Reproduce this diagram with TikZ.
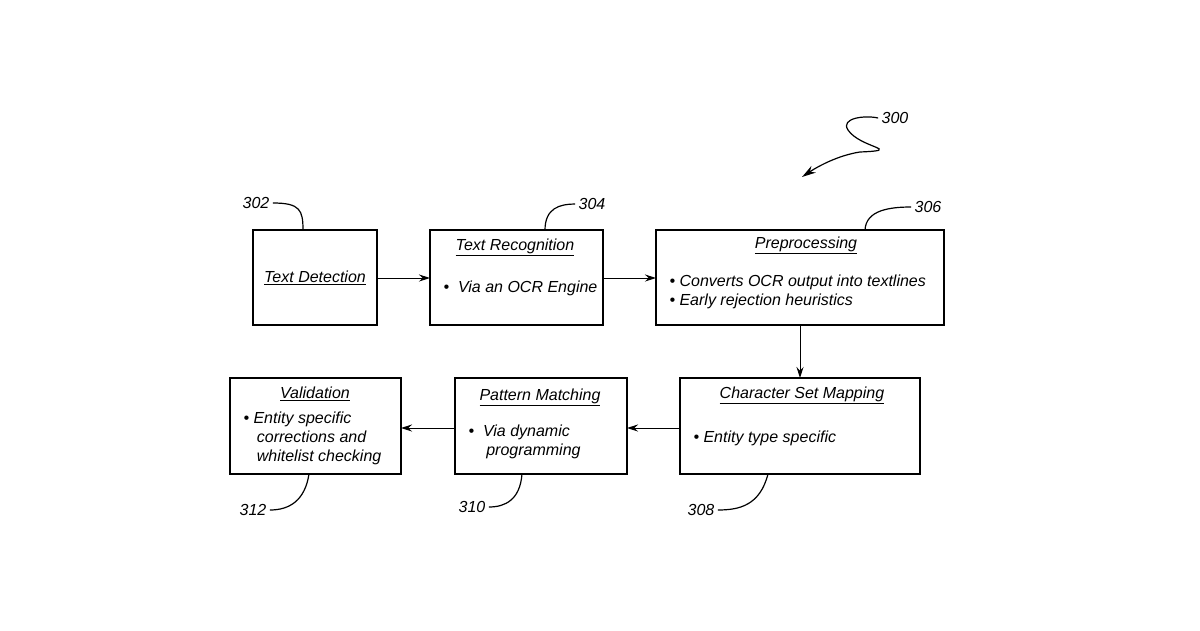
\documentclass[tikz,border=0pt]{standalone}
\usepackage{fontspec}
\setmainfont{Liberation Sans}
\usetikzlibrary{arrows.meta}
\begin{document}
\begin{tikzpicture}[x=1pt,y=-1pt,
  box/.style={draw,line width=1.6pt,inner sep=0pt},
  txt/.style={font=\itshape\fontsize{16}{19}\selectfont,align=left,anchor=west},
  ttl/.style={font=\itshape\fontsize{16}{19}\selectfont,anchor=center},
  lbl/.style={font=\itshape\fontsize{16}{19}\selectfont},
  arr/.style={-{Stealth[length=11pt,width=7pt]},line width=1pt},
  lead/.style={line width=1.2pt}]
\useasboundingbox (0,0) rectangle (1200,630);
\draw[box] (253,230) rectangle (377,325);
\draw[box] (430,230) rectangle (603,325);
\draw[box] (656,230) rectangle (944,325);
\draw[box] (680,378) rectangle (920,474);
\draw[box] (455,378) rectangle (627,474);
\draw[box] (230,378) rectangle (401,474);
\coordinate (b1r) at (377,278); \coordinate (b2l) at (430,278);
\coordinate (b2r) at (603,278); \coordinate (b3l) at (656,278);
\coordinate (b3b) at (800,325); \coordinate (b4t) at (800,378);
\coordinate (b4l) at (680,428); \coordinate (b5r) at (627,428);
\coordinate (b5l) at (455,428); \coordinate (b6r) at (401,428);
\draw[arr] (b1r) -- (b2l);
\draw[arr] (b2r) -- (b3l);
\draw[arr] (b3b) -- (b4t);
\draw[arr] (b4l) -- (b5r);
\draw[arr] (b5l) -- (b6r);
\node[ttl] (t1) at (315,278) {\underline{Text Detection}};
\node[ttl] (t2) at (515,247) {\underline{Text Recognition}};
\node[txt] (d2) at (440,288) {•\ \ Via an OCR Engine};
\node[ttl] (t3) at (806,245) {\underline{Preprocessing}};
\node[txt] (d3) at (666,292) {• Converts OCR output into textlines\\• Early rejection heuristics};
\node[ttl] (t4) at (802,395) {\underline{Character Set Mapping}};
\node[txt] (d4) at (690,438) {• Entity type specific};
\node[ttl] (t5) at (540,397) {\underline{Pattern Matching}};
\node[txt] (d5) at (465,442) {•\ \ Via dynamic\\\ \ \ \ programming};
\node[ttl] (t6) at (315,394) {\underline{Validation}};
\node[txt] (d6) at (240,438) {• Entity specific\\\ \ \ corrections and\\\ \ \ whitelist checking};
\node[lbl] (l302) at (256,203) {302};
\node[lbl] (l304) at (592,204) {304};
\node[lbl] (l306) at (928,207) {306};
\node[lbl] (l308) at (701,510) {308};
\node[lbl] (l310) at (472,507) {310};
\node[lbl] (l312) at (253,510) {312};
\node[lbl] (l300) at (895,118) {300};
\draw[lead] (l302.east) .. controls (300,203) and (303,210) .. (303,230);
\draw[lead] (545,230) .. controls (545,208) and (560,204) .. (l304.west);
\draw[lead] (865,230) .. controls (866,210) and (890,207) .. (l306.west);
\draw[lead] (768,474) .. controls (760,505) and (740,510) .. (l308.east);
\draw[lead] (522,474) .. controls (520,500) and (505,507) .. (l310.east);
\draw[lead] (309,474) .. controls (305,500) and (290,510) .. (l312.east);
\draw[lead,-{Stealth[length=14pt,width=8pt]}] (l300.west) .. controls (865,115) and (840,118) .. (848,130)
  .. controls (860,148) and (905,150) .. (860,152) .. controls (840,155) and (820,165) .. (802,177);
\end{tikzpicture}
\end{document}
